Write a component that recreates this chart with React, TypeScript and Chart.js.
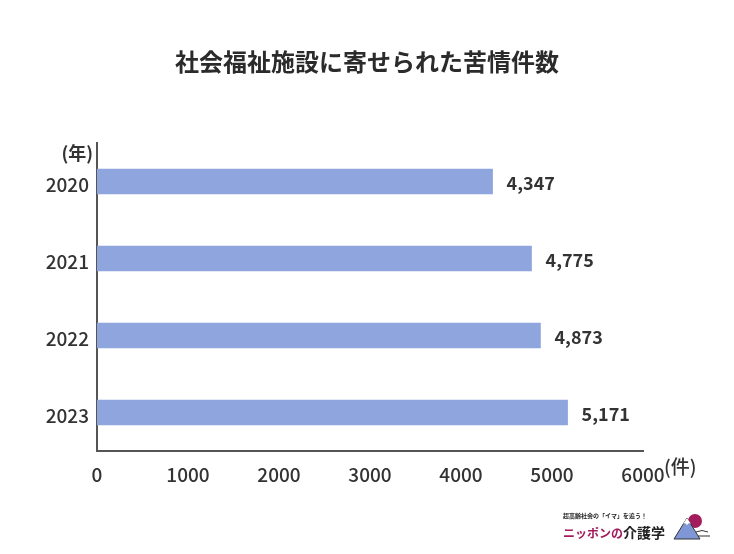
import React, { useEffect, useRef } from "react";
import { Chart, registerables } from "chart.js";
Chart.register(...registerables);

const TITLE = "社会福祉施設に寄せられた苦情件数";
const years = ["2020", "2021", "2022", "2023"];
const complaints = [4347, 4775, 4873, 5171];
const xTicks = [0, 1000, 2000, 3000, 4000, 5000, 6000];
const yUnit = "(年)";
const xUnit = "(件)";

const FONT = "'Noto Sans CJK JP', 'Noto Sans', sans-serif";
const BAR = "#8fa5de";
const TEXT = "#333333";
const AXIS = "#555555";

export default function App() {
  const ref = useRef<HTMLCanvasElement | null>(null);
  useEffect(() => {
    if (!ref.current) return;
    const overlay = {
      id: "overlay",
      afterDraw(chart: any) {
        const ctx = chart.ctx;
        const area = chart.chartArea;
        const xs = chart.scales.x;
        ctx.save();
        ctx.fillStyle = "#2b2b2b";
        ctx.font = `bold 24px ${FONT}`;
        ctx.textAlign = "center";
        ctx.textBaseline = "middle";
        ctx.fillText(TITLE, 367, 62);
        ctx.fillStyle = TEXT;
        ctx.font = `bold 18px ${FONT}`;
        ctx.textAlign = "right";
        ctx.fillText(yUnit, area.left - 4, 153);
        ctx.textAlign = "left";
        ctx.font = `500 19px ${FONT}`;
        ctx.fillText(xUnit, xs.getPixelForValue(6000) + 21, 467);
        ctx.font = `bold 18px ${FONT}`;
        const meta = chart.getDatasetMeta(0);
        meta.data.forEach((bar: any, i: number) => {
          ctx.fillText(complaints[i].toLocaleString("en-US"), bar.x + 14, bar.y + 2);
        });
        ctx.restore();
      },
    };
    const chart = new Chart(ref.current, {
      type: "bar",
      data: {
        labels: years,
        datasets: [
          {
            data: complaints,
            backgroundColor: BAR,
            barThickness: 25,
          },
        ],
      },
      options: {
        indexAxis: "y",
        animation: false,
        responsive: false,
        maintainAspectRatio: false,
        layout: { padding: { left: 0, top: 143, right: 91, bottom: 63 } },
        plugins: { legend: { display: false }, tooltip: { enabled: false }, title: { display: false } },
        scales: {
          x: {
            min: 0,
            max: 6000,
            afterBuildTicks: (s: any) => {
              s.ticks = xTicks.map((v) => ({ value: v }));
            },
            grid: { display: false, drawTicks: false },
            border: { display: true, color: AXIS, width: 2 },
            ticks: {
              color: TEXT,
              font: { family: FONT, size: 19, weight: "500" },
              padding: 12,
              maxRotation: 0,
              callback: (v: any) => String(v),
            },
            afterFit: (s: any) => {
              s.height = 40;
            },
          },
          y: {
            grid: { display: false, drawTicks: false },
            border: { display: true, color: AXIS, width: 2 },
            ticks: { color: TEXT, font: { family: FONT, size: 19, weight: "500" }, padding: 8, labelOffset: 3 },
            afterFit: (s: any) => {
              s.width = 97;
            },
          },
        },
      },
      plugins: [overlay],
    });
    return () => chart.destroy();
  }, []);
  return (
    <div style={{ position: "fixed", left: 0, top: 0, width: 734, height: 554, background: "#fff" }}>
      <canvas ref={ref} width={734} height={554} style={{ position: "absolute", left: 0, top: 0 }} />
      <div style={{ position: "absolute", left: 563, top: 513, fontFamily: FONT, fontWeight: 700, lineHeight: 1, whiteSpace: "nowrap" }}>
        <div style={{ fontSize: 6, color: "#222" }}>超高齢社会の「イマ」を追う！</div>
        <div style={{ marginTop: 4 }}>
          <span style={{ color: "#a21c5e", fontSize: 12 }}>ニッポンの</span>
          <span style={{ color: "#222", fontSize: 14 }}>介護学</span>
        </div>
      </div>
      <svg width={40} height={30} style={{ position: "absolute", left: 672, top: 511 }}>
        <circle cx={23} cy={10} r={7} fill="#a21c5e" />
        <path d="M2 28 L15 7 L28 28 Z" fill="#7f97d6" stroke="#333" strokeWidth={1} />
        <path d="M11 13 L15 7 L19 13 L17 12 L15 14 L13 12 Z" fill="#fff" />
        <path d="M24 21 Q30 18 36 21 M26 25 L38 25" stroke="#333" strokeWidth={1} fill="none" />
      </svg>
    </div>
  );
}
